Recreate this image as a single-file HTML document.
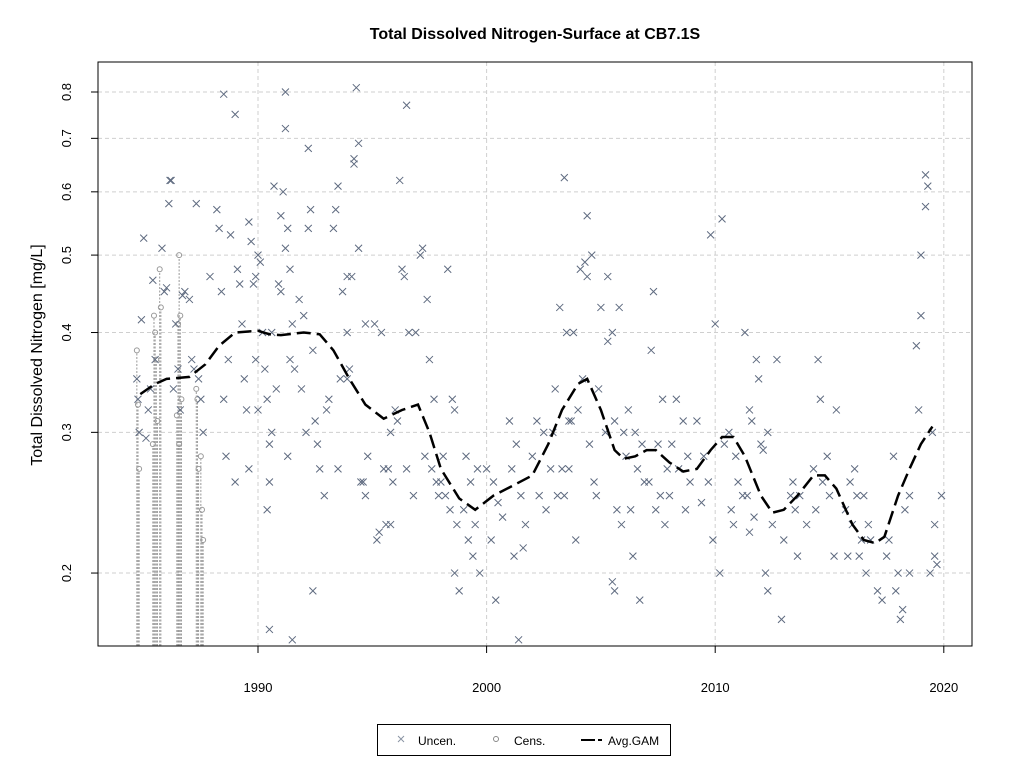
<!DOCTYPE html>
<html><head><meta charset="utf-8"><style>
body{margin:0;background:#fff;}
svg{font-family:"Liberation Sans",Arial,sans-serif;}
</style></head><body>
<svg id="chart" width="1024" height="768" viewBox="0 0 1024 768">
<text x="535" y="39" text-anchor="middle" font-size="16" font-weight="bold">Total Dissolved Nitrogen-Surface at CB7.1S</text>
<text transform="translate(42,355) rotate(-90)" text-anchor="middle" font-size="16">Total Dissolved Nitrogen [mg/L]</text>
<g id="grid"></g>
<g id="cens"></g>
<g id="unc"></g>
<path id="gam" fill="none" stroke="#000" stroke-width="2.5" stroke-dasharray="14,6"/>
<rect x="98" y="62" width="874" height="584" fill="none" stroke="#000" stroke-width="1"/>
<g id="axes"></g>
<g>
<rect x="377.5" y="724.5" width="293" height="31" fill="#fff" stroke="#000"/>
<g><path d="M398,736 l6,6 M404,736 l-6,6" stroke="#8a94a4" stroke-width="1"/><text x="418" y="745" font-size="12">Uncen.</text></g>
<g><circle cx="496" cy="739" r="2.5" fill="none" stroke="#888"/><text x="514" y="745" font-size="12">Cens.</text></g>
<g><path d="M581,740 h14 M598,740 h4" stroke="#000" stroke-width="2"/><text x="608" y="745" font-size="12">Avg.GAM</text></g>
</g>
</svg>
<script>
const yTicks=[0.2,0.3,0.4,0.5,0.6,0.7,0.8];
const xTicks=[1990,2000,2010,2020];
const uncen=[[1984.7,0.35],[1984.75,0.33],[1984.8,0.30],[1984.9,0.415],[1985.0,0.525],[1985.1,0.295],[1985.2,0.32],[1985.3,0.34],
[1985.4,0.465],[1985.5,0.37],[1985.8,0.51],[1985.9,0.45],[1986.0,0.455],[1986.15,0.62],[1986.2,0.62],[1986.1,0.58],[1986.3,0.34],[1986.4,0.41],[1986.5,0.36],[1986.6,0.32],
[1986.7,0.445],[1986.8,0.45],[1987.0,0.44],[1987.1,0.37],[1987.2,0.36],[1987.3,0.58],[1987.4,0.35],[1987.5,0.33],[1987.6,0.30],
[1987.9,0.47],[1988.2,0.57],[1988.3,0.54],[1988.4,0.45],[1988.5,0.33],[1988.6,0.28],[1988.7,0.37],[1988.5,0.795],[1988.8,0.53],
[1989.0,0.75],[1989.1,0.48],[1989.2,0.46],[1989.3,0.41],[1989.4,0.35],[1989.5,0.32],[1989.0,0.26],[1989.6,0.27],[1989.6,0.55],[1989.7,0.52],[1989.8,0.46],
[1990.0,0.5],[1990.1,0.49],[1989.9,0.47],[1990.2,0.40],[1989.9,0.37],[1990.3,0.36],[1990.4,0.33],[1990.0,0.32],[1990.5,0.29],
[1990.7,0.61],[1990.9,0.46],[1991.0,0.45],[1990.6,0.40],[1990.8,0.34],[1990.6,0.30],[1990.5,0.26],[1990.4,0.24],[1990.5,0.17],[1991.2,0.8],[1991.2,0.72],[1991.1,0.6],[1991.0,0.56],[1991.3,0.54],[1991.2,0.51],[1991.4,0.48],[1991.5,0.41],[1991.4,0.37],[1991.6,0.36],[1991.3,0.28],[1991.5,0.165],
[1992.2,0.68],[1992.3,0.57],[1992.2,0.54],[1991.8,0.44],[1992.0,0.42],[1992.4,0.38],[1991.9,0.34],[1992.5,0.31],[1992.1,0.30],[1992.6,0.29],[1992.7,0.27],[1992.4,0.19],
[1993.5,0.61],[1993.4,0.57],[1993.3,0.54],[1993.9,0.47],[1993.7,0.45],[1993.9,0.40],[1993.6,0.35],[1993.1,0.33],[1993.0,0.32],[1993.5,0.27],[1992.9,0.25],
[1994.3,0.81],[1994.4,0.69],[1994.2,0.66],[1994.2,0.65],[1994.4,0.51],[1994.1,0.47],[1994.7,0.41],[1994.0,0.36],[1993.9,0.35],[1994.8,0.28],[1994.5,0.26],[1994.6,0.26],[1994.7,0.25],
[1995.1,0.41],[1995.4,0.40],[1995.8,0.30],[1995.5,0.27],[1995.7,0.27],[1995.9,0.26],[1995.6,0.23],[1995.2,0.22],[1995.3,0.225],[1995.8,0.23],
[1996.5,0.77],[1996.2,0.62],[1996.3,0.48],[1996.4,0.47],[1996.6,0.40],[1996.0,0.32],[1996.1,0.31],[1996.5,0.27],[1996.8,0.25],
[1997.2,0.51],[1997.1,0.50],[1997.4,0.44],[1996.9,0.40],[1997.5,0.37],[1997.7,0.33],[1997.3,0.28],[1997.6,0.27],[1997.8,0.26],[1997.9,0.25],
[1998.3,0.48],[1998.5,0.33],[1998.6,0.32],[1998.1,0.28],[1998.0,0.26],[1998.2,0.25],[1998.4,0.24],[1998.7,0.23],[1998.6,0.20],[1998.8,0.19],
[1999.1,0.28],[1999.6,0.27],[1999.3,0.26],[1999.0,0.24],[1999.5,0.23],[1999.2,0.22],[1999.4,0.21],[1999.7,0.20],
[2000.0,0.27],[2000.3,0.26],[2000.5,0.245],[2000.7,0.235],[2000.2,0.22],[2000.4,0.185],
[2001.0,0.31],[2001.3,0.29],[2001.1,0.27],[2001.5,0.25],[2001.7,0.23],[2001.2,0.21],[2001.6,0.215],[2001.4,0.165],
[2002.2,0.31],[2002.5,0.30],[2002.0,0.28],[2002.8,0.27],[2002.3,0.25],[2002.6,0.24],
[2003.2,0.43],[2003.5,0.40],[2003.0,0.34],[2003.6,0.31],[2002.9,0.30],[2003.3,0.27],[2003.1,0.25],[2003.4,0.25],
[2003.4,0.625],[2004.1,0.48],[2004.4,0.47],[2003.8,0.40],[2004.2,0.35],[2004.0,0.32],[2003.7,0.31],[2004.5,0.29],[2003.6,0.27],[2003.9,0.22],
[2004.4,0.56],[2004.6,0.50],[2004.3,0.49],[2005.0,0.43],[2004.9,0.34],[2005.2,0.30],[2004.7,0.26],[2004.8,0.25],
[2005.3,0.47],[2005.5,0.40],[2005.3,0.39],[2005.8,0.43],[2005.6,0.31],[2006.0,0.30],[2005.7,0.24],[2005.9,0.23],[2005.6,0.19],[2005.5,0.195],
[2006.2,0.32],[2006.5,0.30],[2006.8,0.29],[2006.1,0.28],[2006.6,0.27],[2006.9,0.26],[2006.3,0.24],[2006.4,0.21],[2006.7,0.185],
[2007.3,0.45],[2007.2,0.38],[2007.7,0.33],[2007.5,0.29],[2007.9,0.27],[2007.1,0.26],[2007.6,0.25],[2007.4,0.24],[2007.8,0.23],
[2008.3,0.33],[2008.6,0.31],[2008.1,0.29],[2008.8,0.28],[2008.4,0.27],[2008.9,0.26],[2008.0,0.25],[2008.7,0.24],
[2009.2,0.31],[2009.5,0.28],[2009.7,0.26],[2009.4,0.245],[2009.9,0.22],[2010.0,0.41],[2009.8,0.53],
[2010.3,0.555],[2010.6,0.30],[2010.4,0.29],[2010.9,0.28],[2011.0,0.26],[2011.2,0.25],[2010.7,0.24],[2010.8,0.23],[2010.2,0.20],
[2011.3,0.40],[2011.8,0.37],[2011.9,0.35],[2011.5,0.32],[2011.6,0.31],[2012.0,0.29],[2011.4,0.25],[2011.7,0.235],[2011.5,0.225],
[2012.7,0.37],[2012.3,0.30],[2012.1,0.285],[2013.3,0.25],[2012.5,0.23],[2013.0,0.22],[2012.2,0.20],[2012.3,0.19],[2012.9,0.175],
[2013.4,0.26],[2013.7,0.25],[2013.5,0.24],[2014.0,0.23],[2013.6,0.21],
[2014.5,0.37],[2014.6,0.33],[2014.9,0.28],[2014.3,0.27],[2014.7,0.26],[2015.0,0.25],[2014.4,0.24],[2015.2,0.21],
[2015.3,0.32],[2015.9,0.26],[2016.2,0.25],[2015.7,0.24],[2016.0,0.23],[2016.4,0.22],[2015.8,0.21],
[2016.1,0.27],[2016.5,0.25],[2016.7,0.23],[2016.8,0.22],[2016.3,0.21],[2016.6,0.20],[2017.1,0.19],[2017.3,0.185],
[2017.8,0.28],[2017.6,0.22],[2017.5,0.21],[2018.0,0.20],[2017.9,0.19],[2018.2,0.18],[2018.1,0.175],
[2019.2,0.63],[2019.3,0.61],[2019.2,0.575],[2019.0,0.50],[2019.0,0.42],[2018.8,0.385],[2018.9,0.32],[2019.5,0.30],[2018.5,0.25],[2018.3,0.24],[2018.5,0.20],[2019.4,0.20],
[2019.9,0.25],[2019.6,0.23],[2019.7,0.205],[2019.6,0.21]];
const cens=[[1984.7,0.38],[1984.75,0.325],[1984.8,0.27],[1985.45,0.42],[1985.5,0.40],[1985.55,0.37],[1985.6,0.31],[1985.4,0.29],[1985.7,0.48],[1985.75,0.43],
[1986.55,0.50],[1986.6,0.42],[1986.5,0.41],[1986.65,0.33],[1986.45,0.315],[1986.55,0.29],
[1987.3,0.34],[1987.35,0.33],[1987.4,0.27],[1987.5,0.28],[1987.55,0.24],[1987.6,0.22]];
const gamX=[1984.85,1985.5,1986,1987,1987.7,1988.3,1989,1990,1990.5,1991,1992,1992.7,1993.3,1994,1994.7,1995.5,1996.3,1997,1997.5,1998,1998.8,1999.5,2000.3,2001,2002,2002.7,2003.3,2004,2004.4,2005,2005.6,2006,2006.5,2007,2007.4,2008,2008.6,2009.2,2009.8,2010.3,2010.8,2011.3,2012,2012.5,2013,2013.6,2014.3,2014.8,2015.3,2016,2016.5,2017,2017.4,2018,2018.5,2019,2019.5];
const gamY=[0.335,0.345,0.35,0.352,0.365,0.385,0.40,0.402,0.398,0.397,0.40,0.398,0.38,0.35,0.325,0.312,0.32,0.325,0.30,0.27,0.248,0.24,0.25,0.256,0.265,0.29,0.32,0.345,0.35,0.32,0.285,0.278,0.28,0.285,0.285,0.275,0.268,0.27,0.285,0.296,0.296,0.28,0.25,0.238,0.24,0.25,0.265,0.265,0.255,0.23,0.22,0.218,0.222,0.25,0.27,0.29,0.305];

const NS='http://www.w3.org/2000/svg';
const X=d=>258+(d-1990)*22.86;
const Y=v=>92-Math.log(v/0.8)*347;
function mk(tag,attrs,parent){const e=document.createElementNS(NS,tag);for(const k in attrs)e.setAttribute(k,attrs[k]);parent.appendChild(e);return e;}
const grid=document.getElementById('grid'),axes=document.getElementById('axes');
yTicks.forEach(t=>{
  const g=mk('line',{x1:98,x2:972,y1:Y(t),y2:Y(t),stroke:'#cfcfcf','stroke-dasharray':'4,3'},grid);
  
  
  const tk=mk('line',{x1:91,x2:98,y1:Y(t),y2:Y(t),stroke:'#000'},axes);
  
  
  const tx=mk('text',{transform:`translate(71,${Y(t)}) rotate(-90)`,'text-anchor':'middle','font-size':'13'},axes);
  tx.textContent=t.toFixed(1);
  
  
});
xTicks.forEach(t=>{
  const g=mk('line',{x1:X(t),x2:X(t),y1:62,y2:646,stroke:'#cfcfcf','stroke-dasharray':'4,3'},grid);
  
  
  const tk=mk('line',{x1:X(t),x2:X(t),y1:646,y2:653,stroke:'#000'},axes);
  
  
  const tx=mk('text',{x:X(t),y:692,'text-anchor':'middle','font-size':'13'},axes);
  tx.textContent=t;
  
  
});
const cg=document.getElementById('cens');
cens.forEach(p=>{
  const x=X(p[0]),y=Y(p[1]);
  const l=mk('line',{x1:x,x2:x,y1:646,y2:y+2.5,stroke:'#999','stroke-dasharray':'2,1.5','stroke-width':'1'},cg);
  
  
  const c=mk('circle',{cx:x,cy:y,r:2.5,fill:'none',stroke:'#999'},cg);
  
  
});
const ug=document.getElementById('unc');
uncen.forEach(p=>{
  const x=X(p[0]),y=Y(p[1]);
  const m=mk('path',{d:`M${x-3.5},${y-3.5}L${x+3.5},${y+3.5}M${x+3.5},${y-3.5}L${x-3.5},${y+3.5}`,stroke:'#5f6b80','stroke-width':'1'},ug);
  
  
});
document.getElementById('gam').setAttribute('d',gamX.map((d,i)=>(i?'L':'M')+X(d).toFixed(1)+','+Y(gamY[i]).toFixed(1)).join(''));
</script>
</body></html>
